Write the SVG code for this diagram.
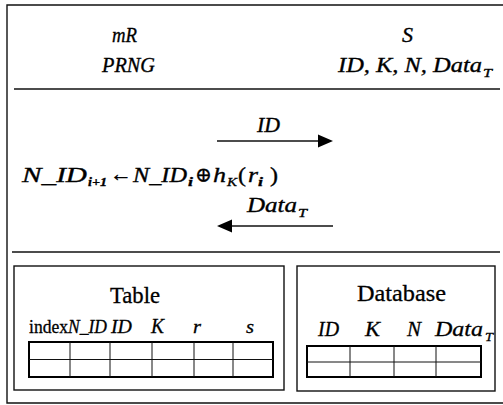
<svg xmlns="http://www.w3.org/2000/svg" width="503" height="405" viewBox="0 0 503 405">
<style>
.frame{fill:none;stroke:#111;stroke-width:1.4}
.gridO{fill:none;stroke:#000;stroke-width:2}
.gridI{stroke:#111;stroke-width:1}
.arr{stroke:#111;stroke-width:1.5}
</style>
<rect fill="#fff" x="0" y="0" width="503" height="405"/>
<g id="frame">
<path class="frame" d="M503,5 H7 V403 H503"/>
<line class="frame" x1="14" y1="89" x2="500" y2="89"/>
<line class="frame" x1="12" y1="252" x2="500" y2="252"/>
</g>
<g font-family="Liberation Serif, DejaVu Serif, serif" fill="#000" stroke="#000" stroke-width="0.35">
<g id="mR" font-style="italic" font-size="21">
<text x="112" y="42" textLength="25" lengthAdjust="spacingAndGlyphs">mR</text>
<text x="102" y="72" textLength="53" lengthAdjust="spacingAndGlyphs">PRNG</text>
</g>
<g id="S" font-style="italic" font-size="21">
<text x="402" y="42" textLength="11" lengthAdjust="spacingAndGlyphs">S</text>
<text x="338" y="72" textLength="144" lengthAdjust="spacingAndGlyphs">ID, K, N, Data</text>
<text x="483" y="77" font-size="13" textLength="9" lengthAdjust="spacingAndGlyphs">T</text>
</g>
<g id="formula" font-size="21">
<text x="22" y="182" font-style="italic" textLength="65" lengthAdjust="spacingAndGlyphs">N_ID</text>
<text x="88" y="186" font-style="italic" font-size="13" font-weight="bold" textLength="19" lengthAdjust="spacingAndGlyphs">i+1</text>
<text x="110" y="181" textLength="22" lengthAdjust="spacingAndGlyphs">←</text>
<text x="133" y="182" font-style="italic" textLength="54" lengthAdjust="spacingAndGlyphs">N_ID</text>
<text x="188" y="186" font-style="italic" font-size="13" font-weight="bold" textLength="5" lengthAdjust="spacingAndGlyphs">i</text>
<text x="195" y="182" textLength="17" lengthAdjust="spacingAndGlyphs">⊕</text>
<text x="213" y="182" font-style="italic" textLength="13" lengthAdjust="spacingAndGlyphs">h</text>
<text x="227" y="186" font-style="italic" font-size="13" textLength="10" lengthAdjust="spacingAndGlyphs">K</text>
<text x="238" y="182" textLength="8" lengthAdjust="spacingAndGlyphs">(</text>
<text x="248" y="182" font-style="italic" textLength="10" lengthAdjust="spacingAndGlyphs">r</text>
<text x="258" y="186" font-style="italic" font-size="13" font-weight="bold" textLength="5" lengthAdjust="spacingAndGlyphs">i</text>
<text x="270" y="182" textLength="8" lengthAdjust="spacingAndGlyphs">)</text>
</g>
</g>
<g id="connectors" font-family="Liberation Serif, DejaVu Serif, serif" fill="#000">
<g id="msg-ID">
<line class="arr" x1="217" y1="141" x2="320" y2="141"/>
<polygon points="318,134.5 333,141 318,147.5" fill="#000"/>
<text x="257" y="132" font-style="italic" font-size="21" stroke="#000" stroke-width="0.35" textLength="23" lengthAdjust="spacingAndGlyphs">ID</text>
</g>
<g id="msg-DataT">
<line class="arr" x1="230" y1="226" x2="333" y2="226"/>
<polygon points="232,219.5 217,226 232,232.5" fill="#000"/>
<text x="247" y="212" font-style="italic" font-size="21" stroke="#000" stroke-width="0.35" textLength="50" lengthAdjust="spacingAndGlyphs">Data</text>
<text x="298" y="217" font-style="italic" font-size="13" stroke="#000" stroke-width="0.35" textLength="9" lengthAdjust="spacingAndGlyphs">T</text>
</g>
</g>
<g id="table" font-family="Liberation Serif, DejaVu Serif, serif" fill="#000">
<rect class="frame" x="14" y="266" width="270" height="124"/>
<g stroke="#000" stroke-width="0.3">
<text x="110" y="303" font-size="23" textLength="50" lengthAdjust="spacingAndGlyphs">Table</text>
<text x="29" y="333" font-size="19" textLength="39" lengthAdjust="spacingAndGlyphs">index</text>
<g font-style="italic" font-size="19">
<text x="68" y="333" textLength="39" lengthAdjust="spacingAndGlyphs">N_ID</text>
<text x="111" y="333" textLength="21" lengthAdjust="spacingAndGlyphs">ID</text>
<text x="151" y="333" font-size="22" textLength="13" lengthAdjust="spacingAndGlyphs">K</text>
<text x="193" y="333" textLength="8" lengthAdjust="spacingAndGlyphs">r</text>
<text x="246" y="333" textLength="8" lengthAdjust="spacingAndGlyphs">s</text>
</g>
</g>
<rect class="gridO" x="29" y="342" width="244" height="35"/>
<path class="gridI" d="M29,359.5 H273 M70,342 V377 M110,342 V377 M152,342 V377 M194,342 V377 M233,342 V377"/>
</g>
<g id="database" font-family="Liberation Serif, DejaVu Serif, serif" fill="#000">
<rect class="frame" x="297" y="266" width="198" height="125"/>
<g stroke="#000" stroke-width="0.3">
<text x="357" y="301" font-size="23" textLength="89" lengthAdjust="spacingAndGlyphs">Database</text>
<g font-style="italic" font-size="22">
<text x="318" y="336" textLength="21" lengthAdjust="spacingAndGlyphs">ID</text>
<text x="365" y="336" textLength="15" lengthAdjust="spacingAndGlyphs">K</text>
<text x="407" y="336" textLength="14" lengthAdjust="spacingAndGlyphs">N</text>
<text x="435" y="336" textLength="48" lengthAdjust="spacingAndGlyphs">Data</text>
<text x="485" y="341" font-size="13" textLength="8" lengthAdjust="spacingAndGlyphs">T</text>
</g>
</g>
<rect class="gridO" x="307" y="346" width="174" height="31"/>
<path class="gridI" d="M307,362 H481 M350,346 V377 M394,346 V377 M436,346 V377"/>
</g>
</svg>
